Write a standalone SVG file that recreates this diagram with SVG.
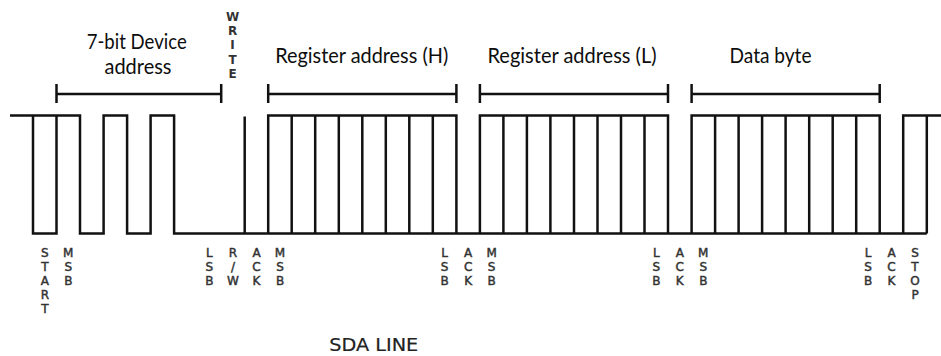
<svg xmlns="http://www.w3.org/2000/svg" width="941" height="356" viewBox="0 0 941 356">
<style>
.wave{fill:none;stroke:#111;stroke-width:2.5;stroke-linejoin:miter}
.br{fill:none;stroke:#111;stroke-width:2.5}
.title{font-family:Lato,"Open Sans","Liberation Sans",sans-serif;font-size:21px;fill:#0d0d0d;text-anchor:middle}
.bit{font-family:"DejaVu Sans","Liberation Sans",sans-serif;font-size:12px;fill:#333;stroke:#333;stroke-width:0.45;text-anchor:middle}
.wr{font-family:"DejaVu Sans","Liberation Sans",sans-serif;font-size:12px;font-weight:bold;fill:#333;text-anchor:middle}
.sda{font-family:"DejaVu Sans","Liberation Sans",sans-serif;font-size:17px;fill:#222;stroke:#222;stroke-width:0.2;text-anchor:middle}
</style>
<rect width="941" height="356" fill="#fff"/>
<g id="waveform" class="wave">
<path d="M10,115.5 H80 V233.5 H103.6 V115.5 H127.1 V233.5 H150.6 V115.5 H174.1 V233.5 H926.8"/>
<path d="M33,115.5 V233.5 H56.5 V115.5"/>
<path d="M244.7,116.5 V233.5"/>
<path d="M268.2,233.5 V115.5 H456.4 V233.5 M291.7,115.5 V233.5 M315.2,115.5 V233.5 M338.8,115.5 V233.5 M362.3,115.5 V233.5 M385.8,115.5 V233.5 M409.3,115.5 V233.5 M432.8,115.5 V233.5"/>
<path d="M479.9,233.5 V115.5 H668 V233.5 M503.4,115.5 V233.5 M526.9,115.5 V233.5 M550.4,115.5 V233.5 M574,115.5 V233.5 M597.5,115.5 V233.5 M621,115.5 V233.5 M644.5,115.5 V233.5"/>
<path d="M691.6,233.5 V115.5 H879.7 V233.5 M715.1,115.5 V233.5 M738.6,115.5 V233.5 M762.1,115.5 V233.5 M785.6,115.5 V233.5 M809.2,115.5 V233.5 M832.7,115.5 V233.5 M856.2,115.5 V233.5"/>
<path d="M903.2,233.5 V115.5 H941 M926.8,115.5 V233.5"/>
</g>
<g id="brackets" class="br">
<path d="M56.5,94 H221.2 M56.5,84 V103 M221.2,84 V103"/>
<path d="M268.2,94 H456.4 M268.2,84 V103 M456.4,84 V103"/>
<path d="M479.9,94 H668 M479.9,84 V103 M668,84 V103"/>
<path d="M691.6,94 H879.7 M691.6,84 V103 M879.7,84 V103"/>
</g>
<g id="field-labels" class="title">
<text x="136.7" y="49.3" textLength="100" lengthAdjust="spacingAndGlyphs">7-bit Device</text>
<text x="138" y="74.3" textLength="67" lengthAdjust="spacingAndGlyphs">address</text>
<text x="361.7" y="63.3" textLength="173" lengthAdjust="spacingAndGlyphs">Register address (H)</text>
<text x="572" y="63.3" textLength="169" lengthAdjust="spacingAndGlyphs">Register address (L)</text>
<text x="770.5" y="63.3" textLength="82" lengthAdjust="spacingAndGlyphs">Data byte</text>
</g>
<g id="write-label" class="wr">
<text x="232.6" y="20.5"><tspan x="232.6">W</tspan><tspan x="232.6" dy="14.4">R</tspan><tspan x="232.6" dy="14.4">I</tspan><tspan x="232.6" dy="14.4">T</tspan><tspan x="232.6" dy="14.4">E</tspan></text>
</g>
<g id="bit-labels" class="bit">
<text y="256.8"><tspan x="44.8">S</tspan><tspan x="44.8" dy="14">T</tspan><tspan x="44.8" dy="14">A</tspan><tspan x="44.8" dy="14">R</tspan><tspan x="44.8" dy="14">T</tspan></text>
<text y="256.8"><tspan x="68.3">M</tspan><tspan x="68.3" dy="14">S</tspan><tspan x="68.3" dy="14">B</tspan></text>
<text y="256.8"><tspan x="209.4">L</tspan><tspan x="209.4" dy="14">S</tspan><tspan x="209.4" dy="14">B</tspan></text>
<text y="256.8"><tspan x="232.9">R</tspan><tspan x="232.9" dy="14">/</tspan><tspan x="232.9" dy="14">W</tspan></text>
<text y="256.8"><tspan x="256.5">A</tspan><tspan x="256.5" dy="14">C</tspan><tspan x="256.5" dy="14">K</tspan></text>
<text y="256.8"><tspan x="280">M</tspan><tspan x="280" dy="14">S</tspan><tspan x="280" dy="14">B</tspan></text>
<text y="256.8"><tspan x="444.6">L</tspan><tspan x="444.6" dy="14">S</tspan><tspan x="444.6" dy="14">B</tspan></text>
<text y="256.8"><tspan x="468.1">A</tspan><tspan x="468.1" dy="14">C</tspan><tspan x="468.1" dy="14">K</tspan></text>
<text y="256.8"><tspan x="491.6">M</tspan><tspan x="491.6" dy="14">S</tspan><tspan x="491.6" dy="14">B</tspan></text>
<text y="256.8"><tspan x="656.3">L</tspan><tspan x="656.3" dy="14">S</tspan><tspan x="656.3" dy="14">B</tspan></text>
<text y="256.8"><tspan x="679.8">A</tspan><tspan x="679.8" dy="14">C</tspan><tspan x="679.8" dy="14">K</tspan></text>
<text y="256.8"><tspan x="703.3">M</tspan><tspan x="703.3" dy="14">S</tspan><tspan x="703.3" dy="14">B</tspan></text>
<text y="256.8"><tspan x="868">L</tspan><tspan x="868" dy="14">S</tspan><tspan x="868" dy="14">B</tspan></text>
<text y="256.8"><tspan x="891.5">A</tspan><tspan x="891.5" dy="14">C</tspan><tspan x="891.5" dy="14">K</tspan></text>
<text y="256.8"><tspan x="915">S</tspan><tspan x="915" dy="14">T</tspan><tspan x="915" dy="14">O</tspan><tspan x="915" dy="14">P</tspan></text>
</g>
<g id="caption" class="sda">
<text x="373.8" y="350.7" textLength="89" lengthAdjust="spacingAndGlyphs">SDA LINE</text>
</g>
</svg>
